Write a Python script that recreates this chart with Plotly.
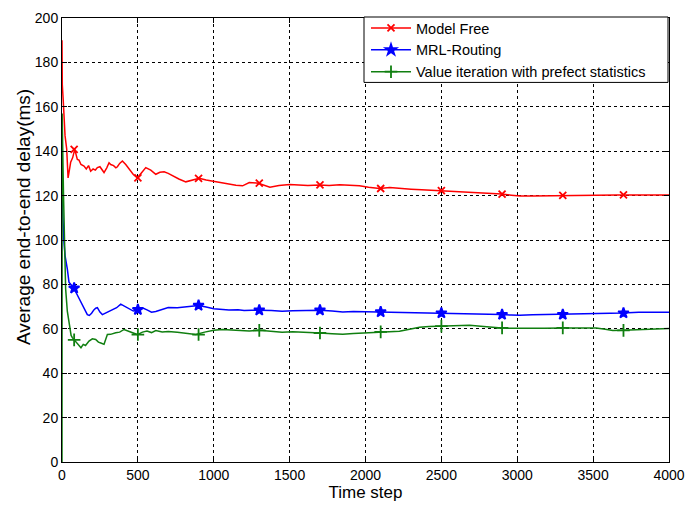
import plotly.graph_objects as go

# ---------------- data ----------------
red_t = [0, 2, 8, 13, 20, 31, 40, 50, 57, 70, 84, 101, 112, 125, 145, 160, 175, 189, 205, 220,
         233, 250, 265, 277, 295, 310, 321, 340, 355, 365, 380, 398, 420, 442, 470, 497, 520, 552,
         585, 618, 645, 673, 700, 728, 770, 816, 860, 904, 950, 1014, 1080, 1146, 1190, 1234, 1294,
         1370, 1430, 1500, 1560, 1620, 1697, 1760, 1830, 1900, 1960, 2020, 2092, 2160, 2230, 2300,
         2370, 2430, 2500, 2570, 2640, 2720, 2800, 2896, 2960, 3020, 3100, 3180, 3260, 3340, 3420,
         3500, 3580, 3660, 3740, 3820, 3900, 4000]
red_y = [190, 170, 163, 153, 147, 141, 128, 132, 135, 137, 140.8, 136.3, 136, 134, 133.3, 132, 133.5,
         131, 132, 131.5, 132.6, 133, 131.5, 130.4, 132.5, 134.8, 134, 133.5, 132.5, 133, 134.5, 135.6,
         134, 131.8, 129.5, 128, 130, 132.6, 131.5, 129.6, 130.5, 130.7, 130, 128.9, 127.5, 126.2, 127,
         127.8, 127, 126.2, 125.5, 124.7, 124.4, 125.9, 125.6, 123.8, 124.6, 125, 124.8, 124.5, 124.8,
         124.6, 124.9, 124.6, 124.4, 123.8, 123.2, 123.6, 123.4, 122.9, 122.6, 122.4, 122.2, 121.9,
         121.5, 121.2, 121, 120.7, 120.2, 119.8, 119.8, 119.9, 120.1, 120.1, 120.3, 120.4, 120.2, 120.3,
         120.3, 120.3, 120.2, 120.3]

blue_t = [0, 5, 12, 20, 28, 35, 46, 57, 68, 79, 95, 112, 130, 150, 167, 180, 195, 210, 222, 233, 250,
          266, 285, 300, 330, 360, 387, 420, 450, 470, 500, 530, 560, 590, 618, 650, 700, 760, 820, 870,
          900, 950, 1000, 1060, 1100, 1160, 1200, 1250, 1300, 1380, 1450, 1520, 1600, 1700, 1780, 1850,
          1920, 2000, 2092, 2180, 2260, 2350, 2420, 2488, 2570, 2664, 2750, 2820, 2895, 2960, 3016, 3100,
          3200, 3300, 3400, 3500, 3600, 3696, 3800, 3900, 4000]
blue_y = [120.7, 110, 100, 93, 90, 87, 81, 80, 79.5, 78.3, 76, 73.8, 71.5, 68.5, 66.4, 66, 67, 68.5,
          69.3, 69.5, 67.5, 66.4, 67, 67.8, 68.5, 69.5, 71.1, 70, 69, 68, 68.6, 69.5, 68.5, 67.5, 67.8,
          68.5, 69.6, 69.5, 69.8, 70.2, 70.5, 69.8, 69, 68.7, 68.5, 68.6, 68.2, 68.3, 68.4, 68.2, 67.9,
          68.1, 68.3, 68.4, 68, 67.6, 67.8, 67.7, 67.6, 67.4, 67.5, 67.3, 67.2, 67.1, 67, 66.7, 66.9,
          66.6, 66.4, 66.2, 66.1, 66.3, 66.4, 66.4, 66.7, 66.9, 67, 67.1, 67.4, 67.5, 67.5]

green_t = [0, 1, 5, 10, 16, 24, 35, 46, 51, 60, 68, 80, 95, 112, 125, 140, 155, 178, 200, 222, 240,
           260, 277, 299, 320, 354, 380, 409, 440, 470, 497, 530, 560, 590, 618, 660, 700, 760, 820,
           882, 940, 1000, 1058, 1120, 1180, 1234, 1300, 1380, 1450, 1520, 1600, 1700, 1780, 1850,
           1920, 2000, 2092, 2160, 2224, 2290, 2356, 2420, 2488, 2560, 2620, 2686, 2760, 2830, 2896,
           2980, 3082, 3180, 3300, 3420, 3520, 3580, 3630, 3700, 3800, 3900, 4000]
green_y = [0, 157, 140, 120, 100, 78, 68, 63.4, 60.4, 57, 56, 55, 53.5, 52.2, 51.5, 53, 52.5, 54.5,
           55.5, 55.2, 54, 53.5, 53, 57.4, 57.5, 58.2, 58.5, 59.7, 59, 58, 57.4, 58.5, 59, 58.3, 59.2,
           58.6, 58.8, 58.4, 58, 57.4, 58.5, 59.3, 59.7, 59.5, 59.2, 59, 59.3, 58.8, 58.5, 58.7, 58.3,
           58.1, 57.8, 57.6, 57.9, 58.2, 58.6, 58.9, 58.9, 59.8, 60.7, 61, 61.2, 61.3, 61.5, 61.6, 61.2,
           60.7, 60.4, 60.2, 60.1, 60.3, 60.4, 60.4, 60.4, 59.8, 59.2, 59.3, 59.5, 59.8, 60.1]

marker_t = [80, 500, 900, 1300, 1700, 2100, 2500, 2900, 3300, 3700]
red_marker_y = [140.8, 128, 127.8, 125.6, 124.8, 123.2, 122.2, 120.7, 120.1, 120.3]
blue_marker_y = [78.3, 68.6, 70.5, 68.4, 68.4, 67.6, 67.1, 66.4, 66.4, 67.1]
green_marker_y = [55, 57.4, 57.4, 59.3, 58.1, 58.6, 61.2, 60.4, 60.4, 59.3]

names = ["Model Free", "MRL-Routing", "Value iteration with prefect statistics"]
x_ticks = [0, 500, 1000, 1500, 2000, 2500, 3000, 3500, 4000]
y_ticks = [0, 20, 40, 60, 80, 100, 120, 140, 160, 180, 200]
x_title = "Time step"
y_title = "Average end-to-end delay(ms)"

RED, BLUE, GREEN = "#ff0000", "#0000ff", "#107f10"
FONT = "Liberation Sans, Arial, sans-serif"

series = [
    (names[0], red_t, red_y, red_marker_y, RED, "x-thin", 7),
    (names[1], blue_t, blue_y, blue_marker_y, BLUE, "star", 8),
    (names[2], green_t, green_y, green_marker_y, GREEN, "cross-thin", 9),
]

fig = go.Figure()
for name, t, y, my, col, sym, ms in series:
    fig.add_trace(go.Scatter(x=t, y=y, mode="lines", line=dict(color=col, width=1.5),
                             showlegend=False, hoverinfo="skip"))
    mk = dict(symbol=sym, size=ms, color=col, line=dict(color=col, width=1.8))
    fig.add_trace(go.Scatter(x=marker_t, y=my, mode="markers", marker=mk, showlegend=False))
    fig.add_trace(go.Scatter(x=[None], y=[None], mode="lines+markers", name=name,
                             line=dict(color=col, width=1.5), marker=mk))

axis_common = dict(
    showline=True, linecolor="black", linewidth=1, mirror="ticks",
    ticks="inside", ticklen=5, tickcolor="black", automargin=False,
    showgrid=True, gridcolor="black", griddash="dot", gridwidth=1,
    zeroline=False, tickfont=dict(family=FONT, size=14, color="black"),
)

fig.update_xaxes(range=[0, 4000], tickvals=x_ticks, **axis_common,
                 title=dict(text=x_title, font=dict(family=FONT, size=17, color="black"), standoff=4))
fig.update_yaxes(range=[0, 200], tickvals=y_ticks, **axis_common)

fig.add_annotation(text=y_title, textangle=-90, xref="paper", yref="paper",
                   x=-0.063, y=0.551, xanchor="center", yanchor="middle", showarrow=False,
                   font=dict(family=FONT, size=19, color="black"))

# legend frame (the legend itself has no border so the frame can be wider, as in the reference)
fig.add_shape(type="rect", xref="paper", yref="paper",
              x0=(364 - 62) / 607, x1=(668 - 62) / 607, y0=(462 - 79) / 448, y1=(462 - 13) / 448,
              line=dict(color="black", width=1), fillcolor="white", layer="above")

fig.update_layout(
    width=686, height=507,
    margin=dict(l=62, r=17, t=14, b=45),
    paper_bgcolor="white", plot_bgcolor="white",
    font=dict(family=FONT, color="black"),
    legend=dict(x=(366 - 62) / 607, xanchor="left", y=(462 - 8) / 448, yanchor="top",
                bgcolor="rgba(0,0,0,0)", borderwidth=0, tracegroupgap=0,
                font=dict(family=FONT, size=14.5, color="black"),
                itemwidth=40),
)

fig.write_html("out.html", config={"displayModeBar": False},
               post_script="document.body.style.margin='0';")
